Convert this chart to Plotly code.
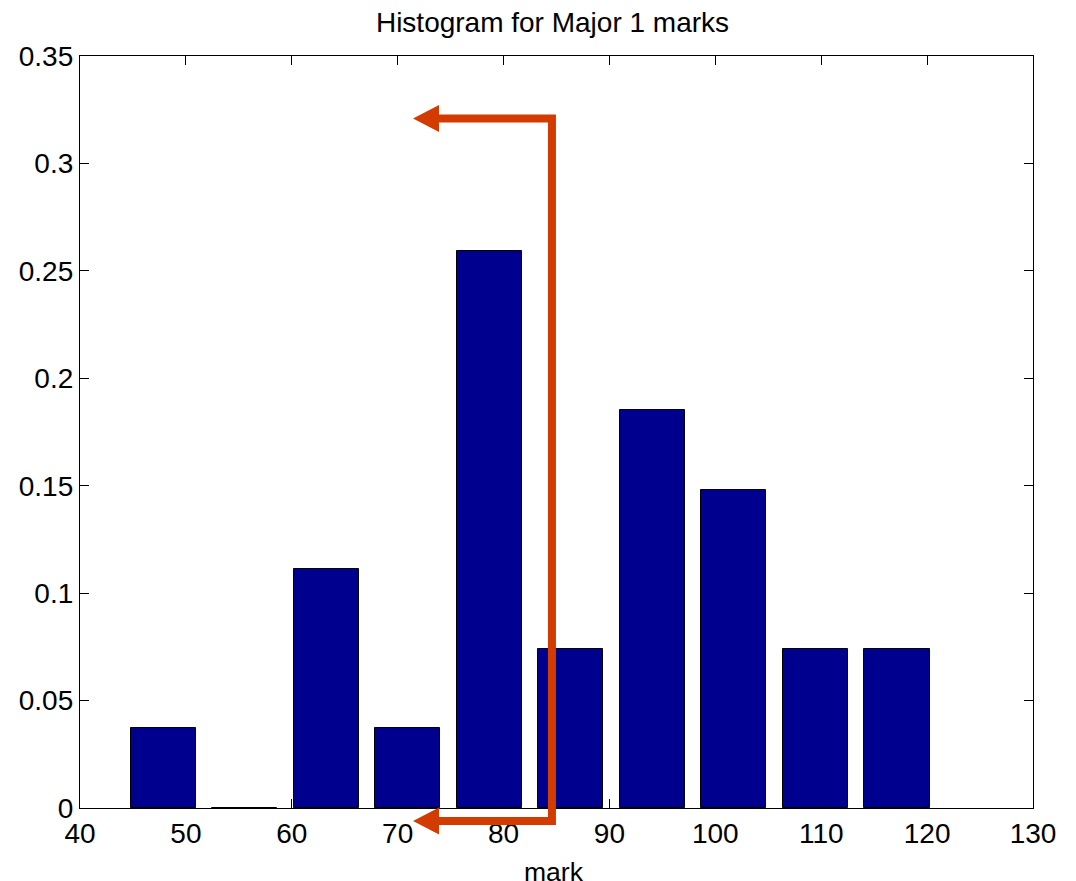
import plotly.graph_objects as go

# ---- data ----
bin_centers = [47.85, 55.55, 63.25, 70.95, 78.65, 86.35, 94.05, 101.75, 109.45, 117.15]
counts = [1, 0, 3, 1, 7, 2, 5, 4, 2, 2]
total = sum(counts)
freq = [c / total for c in counts]
bar_width = 0.8 * 7.7

x_ticks = [40, 50, 60, 70, 80, 90, 100, 110, 120, 130]
y_ticks = [0, 0.05, 0.1, 0.15, 0.2, 0.25, 0.3, 0.35]
y_tick_text = ["0", "0.05", "0.1", "0.15", "0.2", "0.25", "0.3", "0.35"]
x_range = [40, 130]
y_range = [0, 0.35]

# red arrow annotation (data units)
arrow_corner_x = 84.57
arrow_tip_x = 71.45
arrow_top_y = 0.3209
arrow_bot_y = -0.0061

title_text = "Histogram for Major 1 marks"
x_label = "mark"

# ---- style ----
bar_color = "rgb(0,0,143)"
red = "rgb(210,60,0)"
font_family = "Liberation Sans, Arial, Helvetica, sans-serif"
line_w = 8
head_len = 26
head_half = 13.5
line_end_offset = 1.2  # data units beyond tip where the shaft ends

# page body has an 8px margin, so the figure is offset by 8px
fig_w, fig_h = 1060, 873
m_l, m_r, m_t, m_b = 72, 35, 48, 73
plot_h = fig_h - m_t - m_b

fig = go.Figure()
fig.add_trace(go.Bar(
    x=bin_centers, y=freq, width=bar_width,
    marker=dict(color=bar_color, line=dict(color="black", width=1)),
    hoverinfo="x+y",
))

def to_paper(y):
    return (y - y_range[0]) / (y_range[1] - y_range[0])

yt = to_paper(arrow_top_y)
yb = to_paper(arrow_bot_y)
xs = arrow_tip_x + line_end_offset
path = (f"M {xs},{yt} L {arrow_corner_x},{yt} "
        f"L {arrow_corner_x},{yb} L {xs},{yb}")

shapes = [
    dict(type="path", xref="x", yref="paper", path=path,
         line=dict(color=red, width=line_w), layer="above"),
]
for yy in (yt, yb):
    shapes.append(dict(
        type="path", xref="x", yref="paper",
        xsizemode="pixel", ysizemode="pixel",
        xanchor=arrow_tip_x, yanchor=yy,
        path=f"M 0,0 L {head_len},{head_half} L {head_len},{-head_half} Z",
        fillcolor=red, line=dict(color=red, width=0), layer="above",
    ))

fig.update_layout(
    width=fig_w, height=fig_h,
    margin=dict(l=m_l, r=m_r, t=m_t, b=m_b, autoexpand=False),
    paper_bgcolor="white", plot_bgcolor="white",
    font=dict(family=font_family, color="black", size=26),
    title=dict(text=title_text, x=544.5 / fig_w, xanchor="center",
               yref="container", y=1 - 14 / fig_h, yanchor="middle",
               font=dict(size=28), automargin=False),
    showlegend=False,
    shapes=shapes,
    bargap=0,
    annotations=[dict(
        text=x_label, xref="paper", yref="paper", x=0.4975, y=-64 / plot_h,
        xanchor="center", yanchor="middle", showarrow=False,
        font=dict(size=26.5),
    )],
)
fig.update_xaxes(
    range=x_range, tickvals=x_ticks, ticks="inside", ticklen=9, tickwidth=1,
    tickcolor="black", showline=True, linecolor="black", linewidth=1.3,
    mirror="ticks", showgrid=False, zeroline=False, automargin=False,
    tickfont=dict(size=28),
)
fig.update_yaxes(
    range=y_range, tickvals=y_ticks, ticktext=y_tick_text, ticks="inside",
    ticklen=9, tickwidth=1, tickcolor="black", showline=True, linecolor="black",
    linewidth=1.3, mirror="ticks", showgrid=False, zeroline=False, automargin=False,
    tickfont=dict(size=28),
)

fig.write_html("out.html")
